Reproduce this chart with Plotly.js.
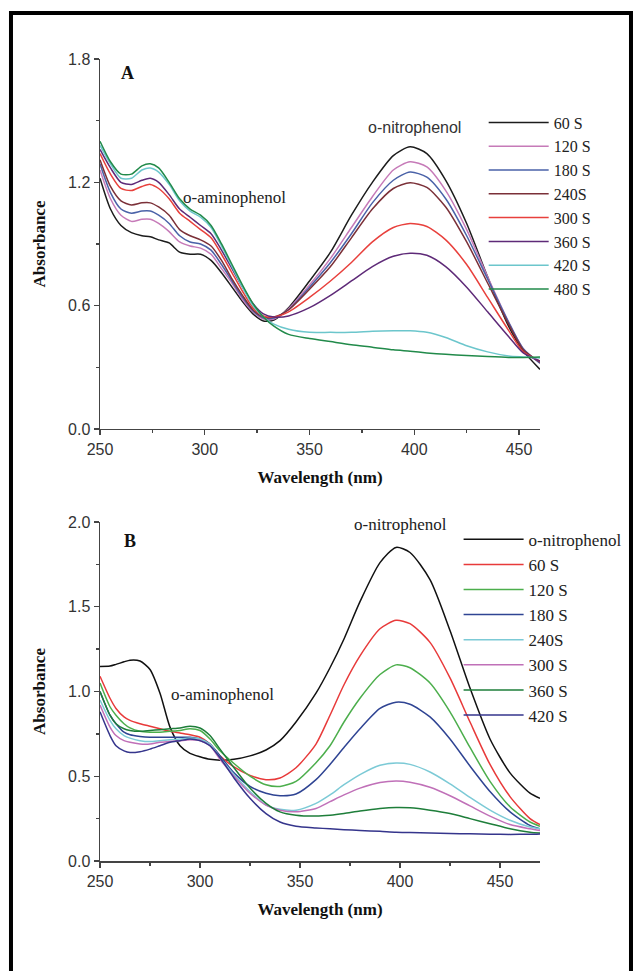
<!DOCTYPE html>
<html>
<head>
<meta charset="utf-8">
<script src="https://cdn.plot.ly/plotly-3.0.1.min.js"></script>
<style>html,body{margin:0;padding:0;background:#fff;}#chart{width:633px;height:971px;}</style>
</head>
<body>
<div id="chart"></div>
<script>
// ---------- Panel A data ----------
const wavelengthA = [250,255,260,265,270,274,278,283,288,293,298,303,308,313,318,323,328,333,340,350,360,370,380,390,398,406,415,425,435,445,452,460];
const seriesNamesA = ['60 S','120 S','180 S','240S','300 S','360 S','420 S','480 S'];
const a60  = [1.22,1.07,0.99,0.955,0.94,0.935,0.92,0.905,0.86,0.85,0.85,0.82,0.76,0.69,0.62,0.56,0.525,0.53,0.59,0.72,0.86,1.04,1.20,1.33,1.373,1.34,1.21,1.00,0.74,0.50,0.38,0.29];
const a120 = [1.26,1.12,1.04,1.01,1.02,1.02,1.00,0.96,0.91,0.89,0.88,0.85,0.78,0.71,0.63,0.57,0.535,0.535,0.585,0.70,0.83,0.98,1.13,1.26,1.30,1.275,1.16,0.97,0.74,0.52,0.39,0.32];
const a180 = [1.29,1.15,1.07,1.05,1.06,1.06,1.04,1.00,0.94,0.91,0.90,0.87,0.80,0.72,0.64,0.575,0.54,0.54,0.58,0.69,0.81,0.95,1.10,1.21,1.25,1.225,1.12,0.94,0.73,0.52,0.39,0.32];
const a240 = [1.31,1.18,1.11,1.09,1.10,1.10,1.08,1.04,0.97,0.94,0.92,0.89,0.82,0.73,0.65,0.58,0.545,0.545,0.58,0.68,0.79,0.93,1.07,1.17,1.198,1.175,1.08,0.91,0.71,0.51,0.385,0.325];
const a300 = [1.34,1.24,1.17,1.16,1.18,1.19,1.17,1.12,1.05,1.01,0.97,0.93,0.85,0.76,0.67,0.59,0.55,0.545,0.57,0.64,0.72,0.81,0.91,0.98,1.00,0.985,0.92,0.80,0.64,0.48,0.375,0.33];
const a360 = [1.36,1.27,1.20,1.19,1.21,1.22,1.20,1.14,1.07,1.03,0.99,0.95,0.87,0.78,0.69,0.61,0.56,0.545,0.55,0.59,0.65,0.72,0.79,0.84,0.855,0.845,0.79,0.69,0.57,0.45,0.37,0.33];
const a420 = [1.38,1.29,1.22,1.22,1.26,1.27,1.25,1.19,1.11,1.06,1.03,0.98,0.89,0.79,0.69,0.60,0.545,0.51,0.485,0.47,0.47,0.47,0.475,0.478,0.478,0.47,0.445,0.405,0.375,0.355,0.35,0.345];
const a480 = [1.40,1.30,1.24,1.24,1.28,1.29,1.27,1.20,1.12,1.07,1.04,0.99,0.90,0.80,0.70,0.61,0.545,0.50,0.46,0.44,0.425,0.41,0.398,0.385,0.378,0.37,0.363,0.357,0.352,0.348,0.348,0.35];
const colorsA = ['#1c1c1c','#c67ab8','#4a62a8','#7b3038','#e8403c','#5e2a78','#6cc6cc','#218a4a'];

// ---------- Panel B data ----------
const wavelengthB = [250,255,258,262,265,270,275,280,285,290,295,300,305,310,317,325,333,340,348,358,365,372,380,390,398,405,415,425,435,445,455,465,470];
const seriesNamesB = ['o-nitrophenol','60 S','120 S','180 S','240S','300 S','360 S','420 S'];
const bONP = [1.148,1.15,1.16,1.175,1.185,1.18,1.13,0.99,0.79,0.68,0.635,0.615,0.60,0.595,0.60,0.62,0.655,0.71,0.82,0.99,1.14,1.31,1.53,1.76,1.85,1.82,1.66,1.36,1.02,0.72,0.52,0.40,0.37];
const b60  = [1.09,0.96,0.90,0.85,0.83,0.81,0.795,0.78,0.765,0.755,0.745,0.73,0.69,0.62,0.555,0.505,0.48,0.49,0.55,0.69,0.86,1.04,1.21,1.37,1.42,1.40,1.29,1.08,0.82,0.57,0.38,0.25,0.215];
const b120 = [1.05,0.91,0.86,0.81,0.785,0.765,0.76,0.76,0.765,0.77,0.78,0.77,0.72,0.65,0.575,0.50,0.45,0.44,0.47,0.58,0.68,0.82,0.96,1.10,1.157,1.14,1.05,0.88,0.67,0.47,0.32,0.23,0.205];
const b180 = [1.00,0.86,0.81,0.76,0.745,0.735,0.73,0.73,0.73,0.73,0.73,0.72,0.69,0.62,0.52,0.44,0.40,0.385,0.395,0.48,0.57,0.67,0.78,0.90,0.937,0.925,0.85,0.72,0.56,0.41,0.29,0.21,0.19];
const b240 = [0.95,0.83,0.78,0.74,0.725,0.71,0.705,0.71,0.715,0.72,0.725,0.72,0.69,0.61,0.51,0.41,0.33,0.305,0.30,0.34,0.39,0.45,0.51,0.565,0.578,0.57,0.525,0.455,0.375,0.30,0.24,0.20,0.19];
const b300 = [0.92,0.79,0.74,0.71,0.70,0.69,0.69,0.70,0.705,0.71,0.715,0.71,0.68,0.60,0.50,0.40,0.33,0.30,0.29,0.31,0.35,0.39,0.43,0.463,0.472,0.465,0.435,0.385,0.325,0.265,0.215,0.19,0.18];
const b360 = [1.00,0.86,0.81,0.78,0.77,0.765,0.77,0.775,0.78,0.785,0.795,0.785,0.74,0.66,0.55,0.43,0.34,0.29,0.27,0.265,0.27,0.28,0.295,0.31,0.316,0.314,0.30,0.28,0.25,0.22,0.19,0.17,0.165];
const b420 = [0.88,0.74,0.68,0.65,0.64,0.645,0.66,0.68,0.70,0.71,0.72,0.71,0.68,0.61,0.49,0.37,0.28,0.23,0.205,0.195,0.19,0.185,0.18,0.175,0.17,0.168,0.165,0.162,0.16,0.158,0.157,0.158,0.16];
const colorsB = ['#111111','#e83a3a','#4cae4c','#2f4493','#7ccad6','#c070b8','#1e7e3a','#35358c'];

const valsA = [a60,a120,a180,a240,a300,a360,a420,a480];
const valsB = [bONP,b60,b120,b180,b240,b300,b360,b420];

const traces = [];
valsA.forEach((v,i)=>traces.push({
  x: wavelengthA, y: v, type:'scatter', mode:'lines', name: seriesNamesA[i],
  xaxis:'x', yaxis:'y', legend:'legend',
  line:{color:colorsA[i], width:1.5, shape:'spline', smoothing:0.7}
}));
valsB.forEach((v,i)=>traces.push({
  x: wavelengthB, y: v, type:'scatter', mode:'lines', name: seriesNamesB[i],
  xaxis:'x2', yaxis:'y2', legend:'legend2',
  line:{color:colorsB[i], width:1.5, shape:'spline', smoothing:0.7}
}));

const serif = 'Liberation Serif, Times New Roman, serif';
const sans = 'Liberation Sans, Arial, sans-serif';
const axisCommon = {
  showline:true, linecolor:'#444', linewidth:1.5, mirror:false,
  ticks:'outside', ticklen:5, tickwidth:1.3, tickcolor:'#444',
  showgrid:false, zeroline:false, automargin:false,
  tickfont:{family:sans, size:16, color:'#333'}
};
const titleFont = {family:serif, size:17, color:'#111', weight:'bold'};

function note(text, x, y, font){
  return {text:text, xref:'paper', yref:'paper', x:x, y:y, xanchor:'center', yanchor:'middle', showarrow:false, font:font};
}

const layout = {
  width:633, height:971,
  margin:{l:100, r:93, t:59, b:110, autoexpand:false},
  paper_bgcolor:'#fff', plot_bgcolor:'#fff',
  showlegend:true,
  xaxis: Object.assign({}, axisCommon, {
    domain:[0,1], anchor:'y', range:[250,460], tick0:250, dtick:50,
    minor:{dtick:25, ticks:'outside', ticklen:3, tickwidth:1.3, tickcolor:'#444'},
    title:{text:'Wavelength (nm)', font:titleFont, standoff:14}
  }),
  yaxis: Object.assign({}, axisCommon, {
    domain:[0.5387,1], anchor:'x', range:[0,1.8], tick0:0, dtick:0.6, tickformat:'.1f',
    minor:{dtick:0.3, ticks:'outside', ticklen:3, tickwidth:1.3, tickcolor:'#444'},
    title:{text:'Absorbance', font:titleFont, standoff:18}
  }),
  xaxis2: Object.assign({}, axisCommon, {
    domain:[0,1], anchor:'y2', range:[250,470], tick0:250, dtick:50,
    minor:{dtick:25, ticks:'outside', ticklen:3, tickwidth:1.3, tickcolor:'#444'},
    title:{text:'Wavelength (nm)', font:titleFont, standoff:14}
  }),
  yaxis2: Object.assign({}, axisCommon, {
    domain:[0,0.4227], anchor:'x2', range:[0,2.0], tick0:0, dtick:0.5, tickformat:'.1f',
    minor:{dtick:0.25, ticks:'outside', ticklen:3, tickwidth:1.3, tickcolor:'#444'},
    title:{text:'Absorbance', font:titleFont, standoff:18}
  }),
  legend:{
    x:0.872, y:0.942, xanchor:'left', yanchor:'top', bgcolor:'rgba(0,0,0,0)',
    font:{family:serif, size:16, color:'#222'}, itemwidth:60, tracegroupgap:0
  },
  legend2:{
    x:0.815, y:0.423, xanchor:'left', yanchor:'top', bgcolor:'rgba(0,0,0,0)',
    font:{family:serif, size:17, color:'#222'}, itemwidth:60, tracegroupgap:0
  },
  annotations:[
    note('A', 0.0614, 0.9825, {family:serif, size:18, color:'#111', weight:'bold'}),
    note('o-aminophenol', 0.3068, 0.8279, {family:serif, size:17, color:'#222'}),
    note('o-nitrophenol', 0.7159, 0.9152, {family:'Liberation Sans, Arial, sans-serif', size:16, color:'#333'}),
    note('B', 0.0682, 0.399, {family:serif, size:18, color:'#111', weight:'bold'}),
    note('o-aminophenol', 0.2773, 0.207, {family:serif, size:17, color:'#222'}),
    note('o-nitrophenol', 0.684, 0.419, {family:serif, size:17, color:'#222'})
  ],
  shapes:[
    {type:'rect', xref:'paper', yref:'paper', x0:-0.2023, x1:1.2068, y0:-0.3, y1:1.0574, line:{color:'#000', width:4}, fillcolor:'rgba(0,0,0,0)', layer:'below'}
  ]
};

Plotly.newPlot('chart', traces, layout, {staticPlot:true, displayModeBar:false});
</script>
</body>
</html>
